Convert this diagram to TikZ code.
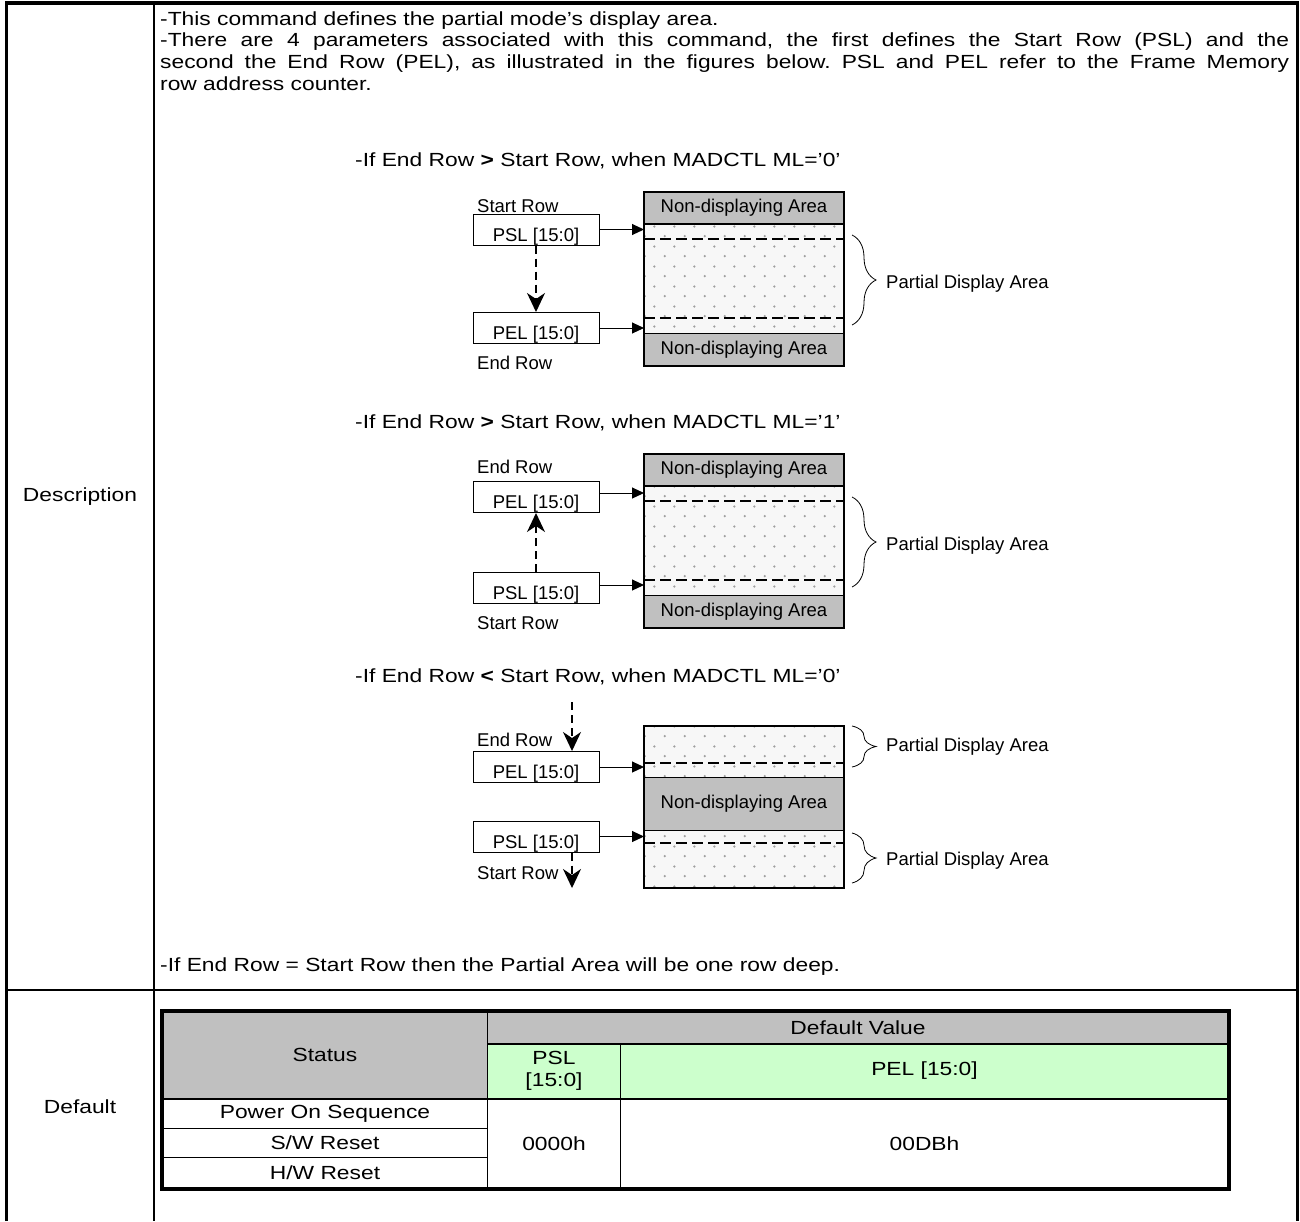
\documentclass[tikz,border=0pt]{standalone}
\usepackage{fontspec}
\setmainfont{Liberation Sans}[FakeStretch=1.2]
\newfontfamily\figfamily{Liberation Sans}
\usetikzlibrary{arrows.meta,positioning,calc,decorations.pathreplacing,patterns.meta}
\definecolor{bandgray}{RGB}{192,192,192}
\definecolor{headgreen}{RGB}{204,255,204}
\newcommand{\bodytxt}{\fontsize{19}{21.7}\selectfont\frenchspacing}
\newcommand{\figtxt}{\figfamily\fontsize{18.5}{21}\selectfont}

\tikzdeclarepattern{
	name=stipple,
	type=uncolored,
	bounding box={(0pt,0pt) and (20pt,20pt)},
	tile size={(20pt,20pt)},
	code={
		\pgfpathcircle{\pgfpoint{5pt}{5pt}}{1.3pt}
		\pgfpathcircle{\pgfpoint{15pt}{15pt}}{1.3pt}
		\pgfusepath{fill}
	}
}

\begin{document}
\begin{tikzpicture}[
	x=1pt, y=-1pt,
	every node/.style={font=\bodytxt},
	regbox/.style={
		draw,
		line width=1pt,
		minimum width=126pt,
		inner xsep=0pt,
		inner ysep=0pt,
		text height=27pt,
		text depth=4pt,
		font=\figtxt
	},
	rowlbl/.style={anchor=west, inner sep=0pt, font=\figtxt},
	band/.style={
		draw,
		line width=1pt,
		fill=bandgray,
		minimum width=199pt,
		inner sep=0pt,
		anchor=north west,
		font=\figtxt
	},
	partial/.style={
		draw,
		line width=1pt,
		minimum width=199pt,
		inner sep=0pt,
		anchor=north west,
		preaction={fill=gray!6},
		pattern=stipple,
		pattern color=gray!75
	},
	ptr/.style={-{Triangle[length=12pt,width=11pt]}, line width=1pt},
	walk/.style={-{Stealth[length=19pt,width=18pt,inset=6pt]}, line width=1.2pt, dash pattern=on 8pt off 5pt},
	rowline/.style={line width=1.5pt, dash pattern=on 11pt off 5pt},
	brc/.style={decorate, decoration={brace, amplitude=24pt}, line width=0.8pt},
	cell/.style={draw, line width=1pt, inner sep=0pt, anchor=north west, align=center}
	]
	\useasboundingbox (0,0) rectangle (1300,1221);
	
	% Outer frame
	\draw[line width=3.5pt] (6.5,1221) -- (6.5,3) -- (1297.5,3) -- (1297.5,1221);
	\draw[line width=2pt] (154,3) -- (154,1221);
	\draw[line width=2pt] (6.5,990) -- (1297.5,990);
	\node (lbldesc) at (80,497) {Description};
	\node (lbldef) at (80,1107) {Default};
	
	% Description text
	\node[anchor=base west, inner sep=0pt] (desc1) at (160,25) {-This command defines the partial mode’s display area.};
	\node[anchor=base west, inner sep=0pt, text width=1129pt, align=justify] (desc2) at (160,46.7)
	{-There are 4 parameters associated with this command, the first defines the Start Row (PSL) and the\linebreak
		second the End Row (PEL), as illustrated in the figures below. PSL and PEL refer to the Frame Memory\linebreak
		row address counter.};
	
	% Case 1: End Row > Start Row, ML='0'
	\node[anchor=west, inner sep=0pt] (head1) at (355,161) {-If End Row \textbf{>} Start Row, when MADCTL ML=’0’};
	\node[partial, minimum height=109pt] (pa1) at (644,224) {};
	\node[band, minimum height=31pt, anchor=south west] (top1) at (644,224) {Non-displaying Area};
	\node[band, minimum height=32pt] (bot1) at (644,333) {Non-displaying Area};
	\draw[rowline] (644,239) -- (843,239);
	\draw[rowline] (644,318) -- (843,318);
	\draw[line width=2pt] (top1.north west) rectangle (bot1.south east);
	\node[rowlbl] (sr1) at (477,206) {Start Row};
	\node[regbox] (psl1) at (536,229.5) {PSL [15:0]};
	\node[regbox] (pel1) at (536,328) {PEL [15:0]};
	\node[rowlbl] (er1) at (477,363) {End Row};
	\draw[ptr] (psl1) -- (psl1 -| pa1.west);
	\draw[ptr] (pel1) -- (pel1 -| pa1.west);
	\draw[walk] (psl1.south) -- (pel1.north);
	\draw[brc] (852,235) -- (852,325);
	\node[rowlbl] (pda1) at (886,284) {Partial Display Area};
	
	% Case 2: End Row > Start Row, ML='1'
	\node[anchor=west, inner sep=0pt] (head2) at (355,423) {-If End Row \textbf{>} Start Row, when MADCTL ML=’1’};
	\node[partial, minimum height=109pt] (pa2) at (644,486) {};
	\node[band, minimum height=31pt, anchor=south west] (top2) at (644,486) {Non-displaying Area};
	\node[band, minimum height=32pt] (bot2) at (644,595) {Non-displaying Area};
	\draw[rowline] (644,501) -- (843,501);
	\draw[rowline] (644,580) -- (843,580);
	\draw[line width=2pt] (top2.north west) rectangle (bot2.south east);
	\node[rowlbl] (er2) at (477,467) {End Row};
	\node[regbox] (pel2) at (536,497) {PEL [15:0]};
	\node[regbox] (psl2) at (536,588) {PSL [15:0]};
	\node[rowlbl] (sr2) at (477,623) {Start Row};
	\coordinate (a2) at ([yshift=4pt]pel2.east);
	\draw[ptr] (a2) -- (a2 -| pa2.west);
	\coordinate (b2) at ([yshift=3pt]psl2.east);
	\draw[ptr] (b2) -- (b2 -| pa2.west);
	\draw[walk] (psl2.north) -- (pel2.south);
	\draw[brc] (852,497) -- (852,587);
	\node[rowlbl] (pda2) at (886,546) {Partial Display Area};
	
	% Case 3: End Row < Start Row, ML='0'
	\node[anchor=west, inner sep=0pt] (head3) at (355,677) {-If End Row \textbf{<} Start Row, when MADCTL ML=’0’};
	\node[partial, minimum height=51pt] (pa3a) at (644,726) {};
	\node[band, minimum height=53pt] (mid3) at (644,777) {Non-displaying Area};
	\node[partial, minimum height=57pt] (pa3b) at (644,830) {};
	\draw[rowline] (644,763) -- (843,763);
	\draw[rowline] (644,843) -- (843,843);
	\draw[line width=2pt] (pa3a.north west) rectangle (pa3b.south east);
	\node[rowlbl] (er3) at (477,740) {End Row};
	\node[regbox] (pel3) at (536,767) {PEL [15:0]};
	\node[regbox] (psl3) at (536,836.5) {PSL [15:0]};
	\node[rowlbl] (sr3) at (477,873) {Start Row};
	\draw[ptr] (pel3) -- (pel3 -| pa3a.west);
	\draw[ptr] (psl3) -- (psl3 -| pa3b.west);
	\coordinate (e3) at (572,702);
	\coordinate (s3) at (572,888);
	\draw[walk] (e3) -- (pel3.north -| e3);
	\draw[walk] (psl3.south -| s3) -- (s3);
	\draw[brc] (852,726) -- (852,767);
	\node[rowlbl] (pda3a) at (886,747) {Partial Display Area};
	\draw[brc] (852,833) -- (852,883);
	\node[rowlbl] (pda3b) at (886,861) {Partial Display Area};
	
	\node[anchor=west, inner sep=0pt] (desc3) at (160,967) {-If End Row = Start Row then the Partial Area will be one row deep.};
	
	% Default value table
	\node[cell, fill=bandgray, minimum width=325pt, minimum height=87pt] (status) at (162,1011) {Status};
	\node[cell, fill=bandgray, minimum width=741pt, minimum height=32pt] (defval) at (487,1011) {Default Value};
	\node[cell, fill=headgreen, minimum width=133pt, minimum height=55pt] (pslh) at (487,1043) {PSL\\{[15:0]}};
	\node[cell, fill=headgreen, minimum width=608pt, minimum height=55pt] (pelh) at (620,1043) {PEL [15:0]};
	\node[cell, minimum width=325pt, minimum height=30pt] (pwr) at (162,1098) {Power On Sequence};
	\node[cell, minimum width=325pt, minimum height=29pt] (swr) at (162,1128) {S/W Reset};
	\node[cell, minimum width=325pt, minimum height=31pt] (hwr) at (162,1157) {H/W Reset};
	\node[cell, minimum width=133pt, minimum height=90pt] (pslv) at (487,1098) {0000h};
	\node[cell, minimum width=608pt, minimum height=90pt] (pelv) at (620,1098) {00DBh};
	\draw[line width=2pt] (defval.south west) -- (defval.south east);
	\draw[line width=2pt] (status.south west) -- (pelh.south east);
	\draw[line width=4pt] (status.north west) rectangle (pelv.south east);
	
\end{tikzpicture}
\end{document}
